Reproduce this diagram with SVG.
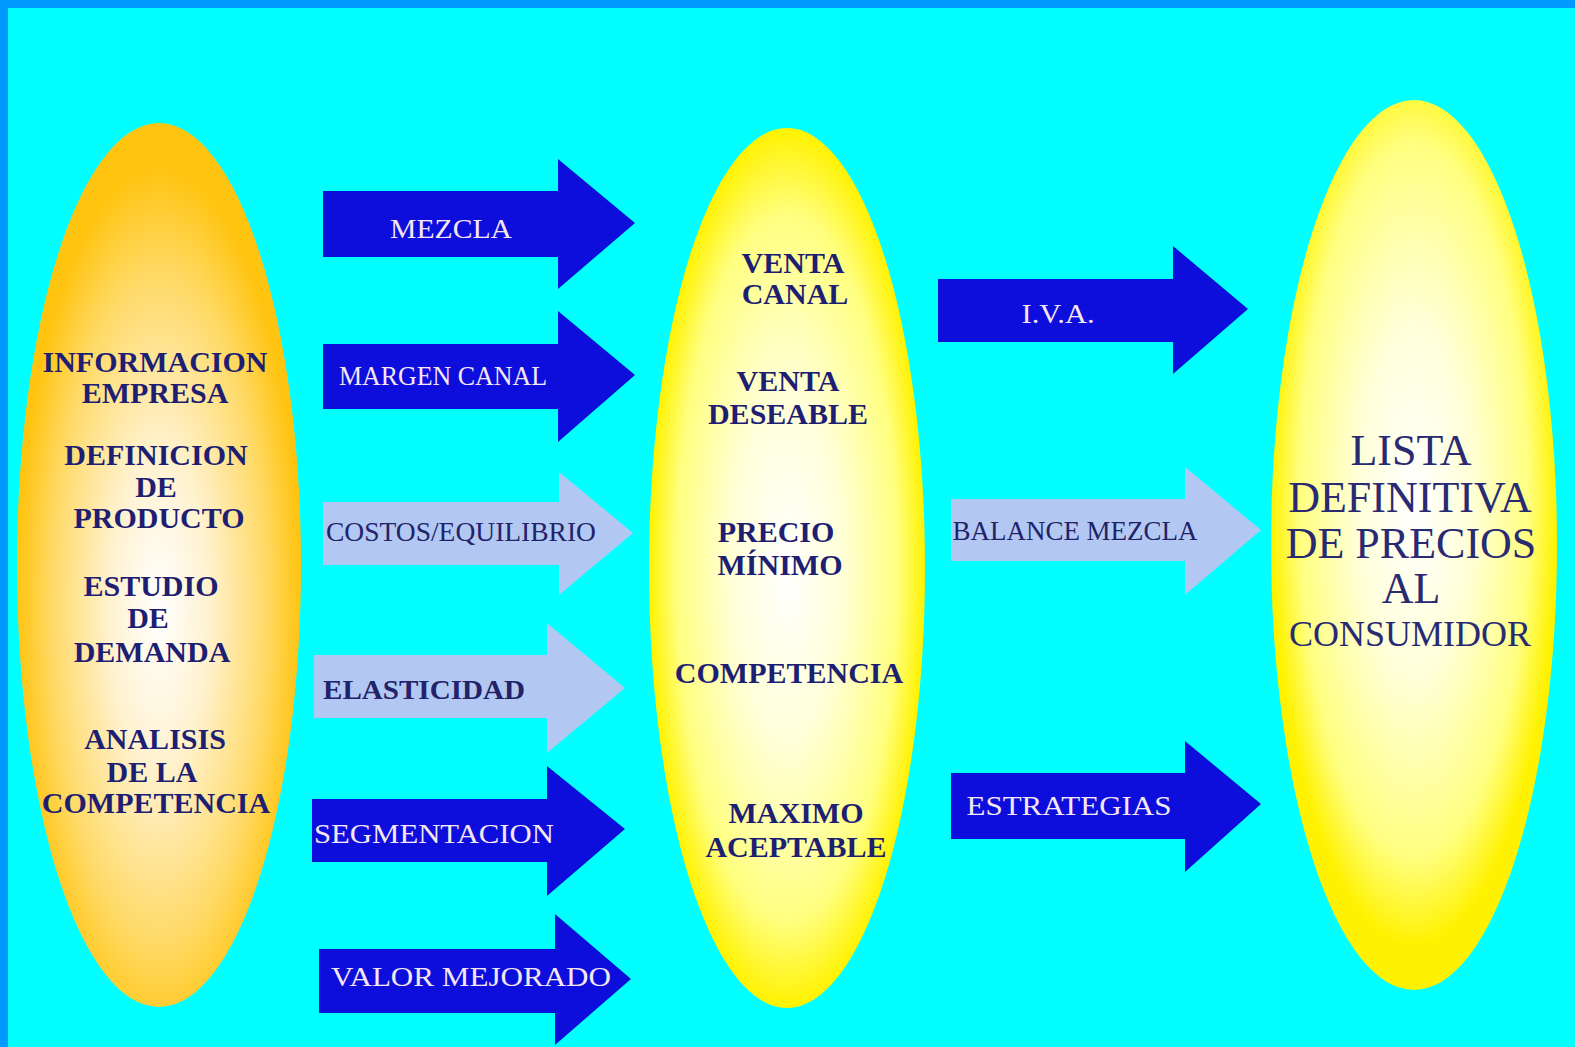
<svg xmlns="http://www.w3.org/2000/svg" width="1575" height="1047" viewBox="0 0 1575 1047">
  <style>
    .bold { font-family: "Liberation Serif", "Times New Roman", serif; font-weight: bold; font-size: 30px; fill: #1E1E72; text-anchor: middle; }
    .lab-d { font-family: "Liberation Serif", "Times New Roman", serif; font-size: 27px; fill: #F4E6F2; text-anchor: middle; }
    .lab-l { font-family: "Liberation Serif", "Times New Roman", serif; font-size: 27px; fill: #22226A; text-anchor: middle; }
    .big { font-family: "Liberation Serif", "Times New Roman", serif; font-size: 44px; fill: #2A2A72; text-anchor: middle; }
    .dark { fill: #0E0EDC; }
    .light { fill: #B2C8F2; }
  </style>
  <defs>
    <radialGradient id="gOrange" cx="50%" cy="55%" r="50%">
      <stop offset="0" stop-color="#FFFFFF"/>
      <stop offset="0.35" stop-color="#FFF2D0"/>
      <stop offset="0.75" stop-color="#FFDA68"/>
      <stop offset="1" stop-color="#FFC410"/>
    </radialGradient>
    <radialGradient id="gYellow" cx="50%" cy="50%" r="50%">
      <stop offset="0" stop-color="#FFFFFF"/>
      <stop offset="0.4" stop-color="#FFFFD8"/>
      <stop offset="0.8" stop-color="#FFFF80"/>
      <stop offset="1" stop-color="#FFF200"/>
    </radialGradient>
    <radialGradient id="gYellow2" cx="50%" cy="45%" r="50%">
      <stop offset="0" stop-color="#FFFFFF"/>
      <stop offset="0.4" stop-color="#FFFFD8"/>
      <stop offset="0.8" stop-color="#FFFF80"/>
      <stop offset="1" stop-color="#FFF200"/>
    </radialGradient>
  </defs>

  <rect x="0" y="0" width="1575" height="1047" fill="#00FFFF"/>
  <rect x="0" y="0" width="1575" height="8" fill="#0099FF"/>
  <rect x="0" y="0" width="8" height="1047" fill="#0099FF"/>

  <g id="node-left">
    <ellipse cx="159" cy="565" rx="142" ry="442" fill="url(#gOrange)"/>
    <text class="bold" x="155" y="372">INFORMACION</text>
    <text class="bold" x="155" y="403">EMPRESA</text>
    <text class="bold" x="156" y="465">DEFINICION</text>
    <text class="bold" x="156" y="497">DE</text>
    <text class="bold" x="159" y="528">PRODUCTO</text>
    <text class="bold" x="151" y="596">ESTUDIO</text>
    <text class="bold" x="148" y="628">DE</text>
    <text class="bold" x="152" y="662">DEMANDA</text>
    <text class="bold" x="155" y="749">ANALISIS</text>
    <text class="bold" x="152" y="782">DE LA</text>
    <text class="bold" x="156" y="813">COMPETENCIA</text>
  </g>

  <g id="node-middle">
    <ellipse cx="787" cy="568" rx="138" ry="440" fill="url(#gYellow)"/>
    <text class="bold" x="793" y="273">VENTA</text>
    <text class="bold" x="795" y="304">CANAL</text>
    <text class="bold" x="788" y="391">VENTA</text>
    <text class="bold" x="788" y="424">DESEABLE</text>
    <text class="bold" x="776" y="542">PRECIO</text>
    <text class="bold" x="780" y="575">MÍNIMO</text>
    <text class="bold" x="789" y="683">COMPETENCIA</text>
    <text class="bold" x="796" y="823">MAXIMO</text>
    <text class="bold" x="796" y="857">ACEPTABLE</text>
  </g>

  <g id="node-right">
    <ellipse cx="1414" cy="545" rx="143" ry="445" fill="url(#gYellow2)"/>
    <text class="big" x="1411" y="465">LISTA</text>
    <text class="big" x="1410" y="512">DEFINITIVA</text>
    <text class="big" x="1411" y="558">DE PRECIOS</text>
    <text class="big" x="1411" y="603">AL</text>
    <text class="big" x="1410" y="646" style="font-size:36px">CONSUMIDOR</text>
  </g>

  <g id="connectors">
    <g id="arrow-mezcla">
      <polygon class="dark" points="323,191 558,191 558,159 635,223 558,289 558,257 323,257"/>
      <text class="lab-d" x="451" y="238" textLength="122" lengthAdjust="spacingAndGlyphs">MEZCLA</text>
    </g>
    <g id="arrow-margen">
      <polygon class="dark" points="323,344 558,344 558,311 635,375 558,442 558,409 323,409"/>
      <text class="lab-d" x="443" y="385" textLength="208" lengthAdjust="spacingAndGlyphs">MARGEN CANAL</text>
    </g>
    <g id="arrow-costos">
      <polygon class="light" points="323,502 559,502 559,472 633,533 559,595 559,565 323,565"/>
      <text class="lab-l" x="461" y="541" textLength="270" lengthAdjust="spacingAndGlyphs">COSTOS/EQUILIBRIO</text>
    </g>
    <g id="arrow-elasticidad">
      <polygon class="light" points="314,655 547,655 547,623 625,688 547,753 547,718 314,718"/>
      <text class="lab-l" x="424" y="699" style="font-weight:bold" textLength="202" lengthAdjust="spacingAndGlyphs">ELASTICIDAD</text>
    </g>
    <g id="arrow-segmentacion">
      <polygon class="dark" points="312,799 547,799 547,766 625,829 547,896 547,862 312,862"/>
      <text class="lab-d" x="434" y="843" textLength="240" lengthAdjust="spacingAndGlyphs">SEGMENTACION</text>
    </g>
    <g id="arrow-valor">
      <polygon class="dark" points="319,949 555,949 555,914 631,979 555,1045 555,1013 319,1013"/>
      <text class="lab-d" x="471" y="986" textLength="280" lengthAdjust="spacingAndGlyphs">VALOR MEJORADO</text>
    </g>
    <g id="arrow-iva">
      <polygon class="dark" points="938,279 1173,279 1173,246 1248,309 1173,374 1173,342 938,342"/>
      <text class="lab-d" x="1058" y="323" textLength="73" lengthAdjust="spacingAndGlyphs">I.V.A.</text>
    </g>
    <g id="arrow-balance">
      <polygon class="light" points="951,499 1185,499 1185,467 1261,530 1185,595 1185,561 951,561"/>
      <text class="lab-l" x="1075" y="540" textLength="245" lengthAdjust="spacingAndGlyphs">BALANCE  MEZCLA</text>
    </g>
    <g id="arrow-estrategias">
      <polygon class="dark" points="951,773 1185,773 1185,741 1261,804 1185,872 1185,839 951,839"/>
      <text class="lab-d" x="1069" y="815" textLength="205" lengthAdjust="spacingAndGlyphs">ESTRATEGIAS</text>
    </g>
  </g>
</svg>
